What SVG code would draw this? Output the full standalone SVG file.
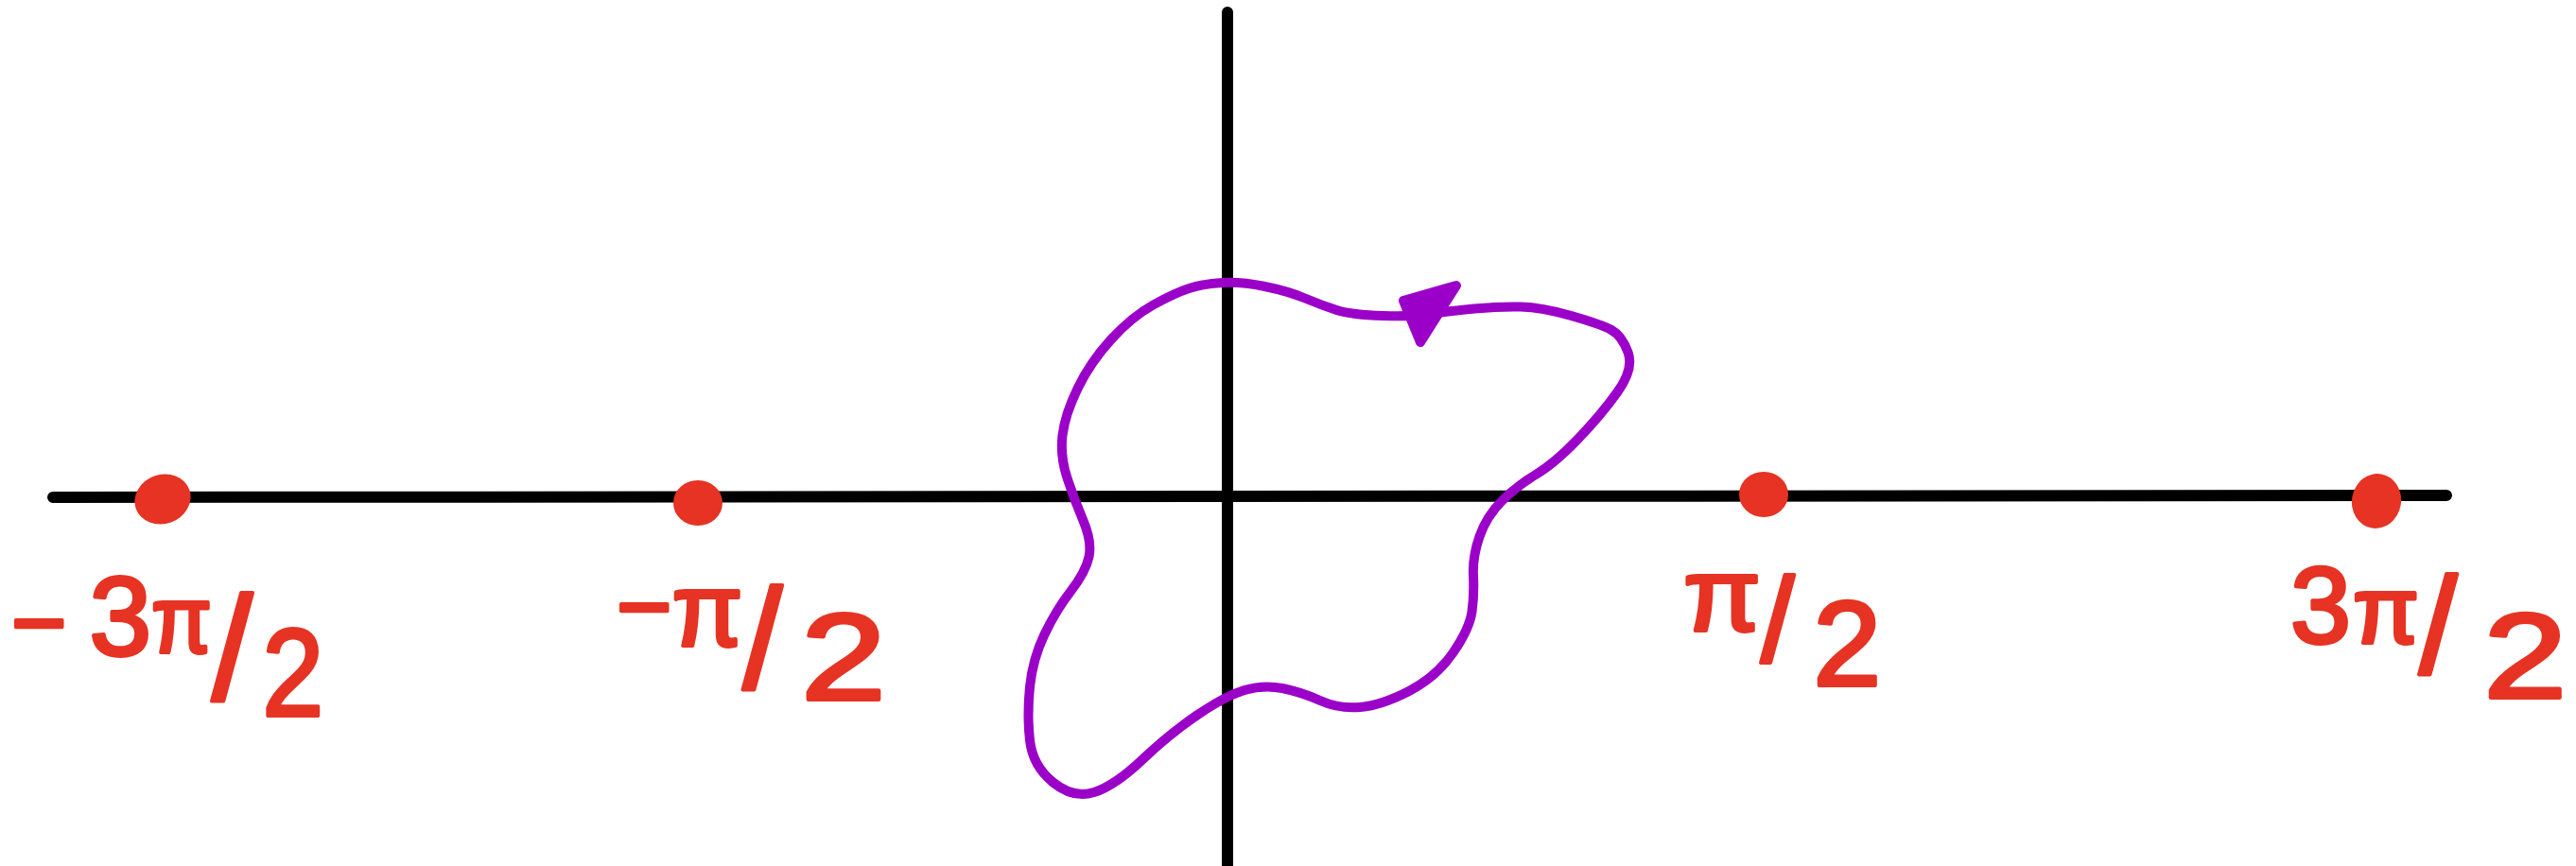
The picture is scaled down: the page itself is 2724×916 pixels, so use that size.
<svg xmlns="http://www.w3.org/2000/svg" width="2724" height="916" viewBox="0 0 2724 916">
<style>
.axis{stroke:#000;stroke-width:12;stroke-linecap:round;fill:none}
.dot{fill:#e63323}
.lbl{font-family:"Liberation Sans","DejaVu Sans",sans-serif;fill:#e63323;stroke:#e63323;stroke-width:4;stroke-linejoin:round}
.contour{fill:none;stroke:#9b00c9;stroke-width:10;stroke-linecap:round;stroke-linejoin:round}
.arrow{fill:#9b00c9;stroke:#9b00c9;stroke-width:10;stroke-linejoin:round}
</style>
<rect width="2724" height="916" fill="#fff"/>
<g id="connectors">
<line class="axis" x1="56" y1="526" x2="2587" y2="524"/>
<line class="axis" x1="1298" y1="13" x2="1298" y2="930"/>
<g id="contour">
<path class="contour" d="M1514,332 Q1496,335 1462.5,334 Q1429,333 1413.5,328 Q1398,323 1380,315.5 Q1362,308 1337.5,303 Q1313,298 1293,299 Q1273,300 1257.5,305 Q1242,310 1219.5,322.5 Q1197,335 1175,359 Q1153,383 1139.5,411 Q1126,439 1123.5,460.5 Q1121,482 1128,504 Q1135,526 1145,549.5 Q1155,573 1151.5,589 Q1148,605 1132.5,625 Q1117,645 1104.5,671 Q1092,697 1089,726.5 Q1086,756 1089,783 Q1092,810 1113.5,827.5 Q1135,845 1157,838 Q1179,831 1208,803.5 Q1237,776 1266.5,756 Q1296,736 1316,730 Q1336,724 1356,728 Q1376,732 1396,741 Q1416,750 1438.5,748 Q1461,746 1490,731 Q1519,716 1536.5,690.5 Q1554,665 1556.5,647 Q1559,629 1558,609 Q1557,589 1564.5,567.5 Q1572,546 1588,530 Q1604,514 1624,502 Q1644,490 1668.5,464.5 Q1693,439 1710.5,414.5 Q1728,390 1721.5,372.5 Q1715,355 1704,349 Q1693,343 1661.5,334 Q1630,325 1608,324.5 Q1586,324 1559,326.5 Q1532,329 1514,332 Z"/>
<polygon class="arrow" points="1484,318 1540,302 1502,362"/>
</g>
</g>
<g id="node-neg3pi2">
<ellipse class="dot" cx="172" cy="528" rx="30" ry="26" transform="rotate(-20 172 528)"/>
<text class="lbl" x="12" y="693"><tspan font-size="100">−</tspan><tspan font-size="118" dx="24">3</tspan><tspan font-size="100" dy="-3" textLength="64" lengthAdjust="spacingAndGlyphs">π</tspan><tspan font-size="155" dy="50">/</tspan><tspan font-size="132" dx="10" dy="17" textLength="65" lengthAdjust="spacingAndGlyphs">2</tspan></text>
</g>
<g id="node-negpi2">
<ellipse class="dot" cx="738" cy="532" rx="26" ry="24"/>
<text class="lbl" x="652" y="676"><tspan font-size="100">−</tspan><tspan font-size="110" dy="7" textLength="75" lengthAdjust="spacingAndGlyphs">π</tspan><tspan font-size="150" dy="45">/</tspan><tspan font-size="130" dx="20" dy="12" textLength="90" lengthAdjust="spacingAndGlyphs">2</tspan></text>
</g>
<g id="node-pi2">
<ellipse class="dot" cx="1865" cy="523" rx="26" ry="24"/>
<text class="lbl" x="1780" y="667"><tspan font-size="110" textLength="82" lengthAdjust="spacingAndGlyphs">π</tspan><tspan font-size="127" dy="33">/</tspan><tspan font-size="128" dx="20" dy="25" textLength="72" lengthAdjust="spacingAndGlyphs">2</tspan></text>
</g>
<g id="node-3pi2">
<ellipse class="dot" cx="2513" cy="530" rx="26" ry="29" transform="rotate(10 2513 530)"/>
<text class="lbl" x="2422" y="680"><tspan font-size="115">3</tspan><tspan font-size="100" dx="2" textLength="70" lengthAdjust="spacingAndGlyphs">π</tspan><tspan font-size="145" dy="32">/</tspan><tspan font-size="128" dx="28" dy="26" textLength="88" lengthAdjust="spacingAndGlyphs">2</tspan></text>
</g>
</svg>
